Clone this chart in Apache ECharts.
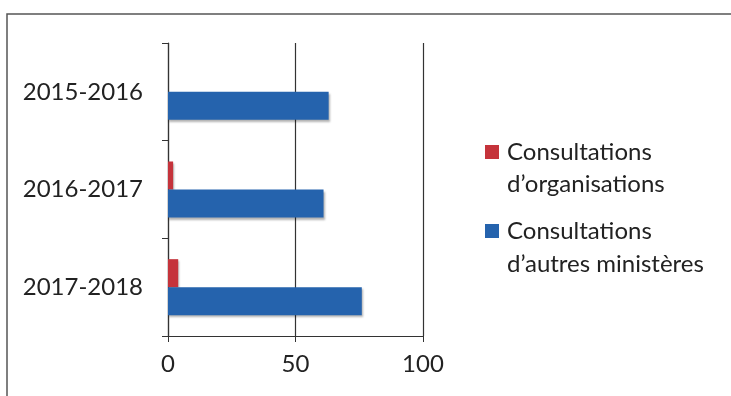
<!DOCTYPE html>
<html>
<head>
<meta charset="utf-8">
<script src="https://cdn.jsdelivr.net/npm/echarts@6/dist/echarts.min.js"></script>
<style>
  html, body { margin: 0; padding: 0; background: #fff; }
  #main { width: 731px; height: 396px; }
</style>
</head>
<body>
<div id="main"></div>
<script>
    const categories = ['2015-2016', '2016-2017', '2017-2018'];
    const organisations = [0, 2, 4];
    const ministeres = [63, 61, 76];
    const xTicks = [0, 50, 100];
    const seriesNames = ['Consultations d’organisations', 'Consultations d’autres ministères'];

    const myChart = echarts.init(document.getElementById('main'));
    const font = 'Lato';
    const fontSize = 24;
    const option = {
        backgroundColor: '#fff',
        animation: false,
        textStyle: {fontFamily: font},
        graphic: [{
            // cadre du graphique
            type: 'polyline',
            shape: {points: [[7, 400], [7, 14], [740, 14]]},
            style: {stroke: '#555', lineWidth: 1.5, fill: null}
        }, {
            // deuxième ligne des libellés de légende
            type: 'text', left: 507, top: 172,
            style: {text: 'd’organisations', font: fontSize + 'px ' + font, fill: '#222'}
        }, {
            type: 'text', left: 507, top: 252,
            style: {text: 'd’autres ministères', font: fontSize + 'px ' + font, fill: '#222'}
        }],
        grid: {left: 168, top: 43, width: 255, height: 293},
        legend: {
            orient: 'vertical',
            left: 485,
            top: 137,
            padding: 0,
            itemWidth: 14,
            itemHeight: 14,
            itemGap: 49,
            icon: 'rect',
            textStyle: {fontSize: fontSize, color: '#222', lineHeight: 30, fontFamily: font, padding: [0, 0, 0, 3]},
            formatter: function (name) {
                return name.split(' ')[0];
            },
            data: seriesNames
        },
        xAxis: {
            type: 'value',
            min: xTicks[0],
            max: xTicks[xTicks.length - 1],
            interval: 50,
            axisLine: {show: true, lineStyle: {color: '#333', width: 1.2}},
            axisTick: {show: true, length: 6, lineStyle: {color: '#333'}},
            splitLine: {show: true, lineStyle: {color: '#333', width: 1.2}},
            axisLabel: {fontSize: fontSize, color: '#222', margin: 16, fontFamily: font}
        },
        yAxis: {
            type: 'category',
            inverse: true,
            data: categories,
            axisLine: {show: true, lineStyle: {color: '#333', width: 1.2}},
            axisTick: {show: true, length: 6, lineStyle: {color: '#333'}},
            axisLabel: {fontSize: fontSize, color: '#222', margin: 25, fontFamily: font}
        },
        series: [{
            name: seriesNames[0],
            type: 'bar',
            data: organisations,
            barWidth: 28,
            barGap: '0%',
            itemStyle: {color: '#c5333b', shadowColor: 'rgba(0,0,0,0.3)', shadowOffsetX: 1, shadowOffsetY: 2, shadowBlur: 2}
        }, {
            name: seriesNames[1],
            type: 'bar',
            data: ministeres,
            barWidth: 28,
            barGap: '0%',
            itemStyle: {color: '#2563ad', shadowColor: 'rgba(0,0,0,0.3)', shadowOffsetX: 1, shadowOffsetY: 2, shadowBlur: 2}
        }]
    };
    myChart.setOption(option);
</script>
</body>
</html>
